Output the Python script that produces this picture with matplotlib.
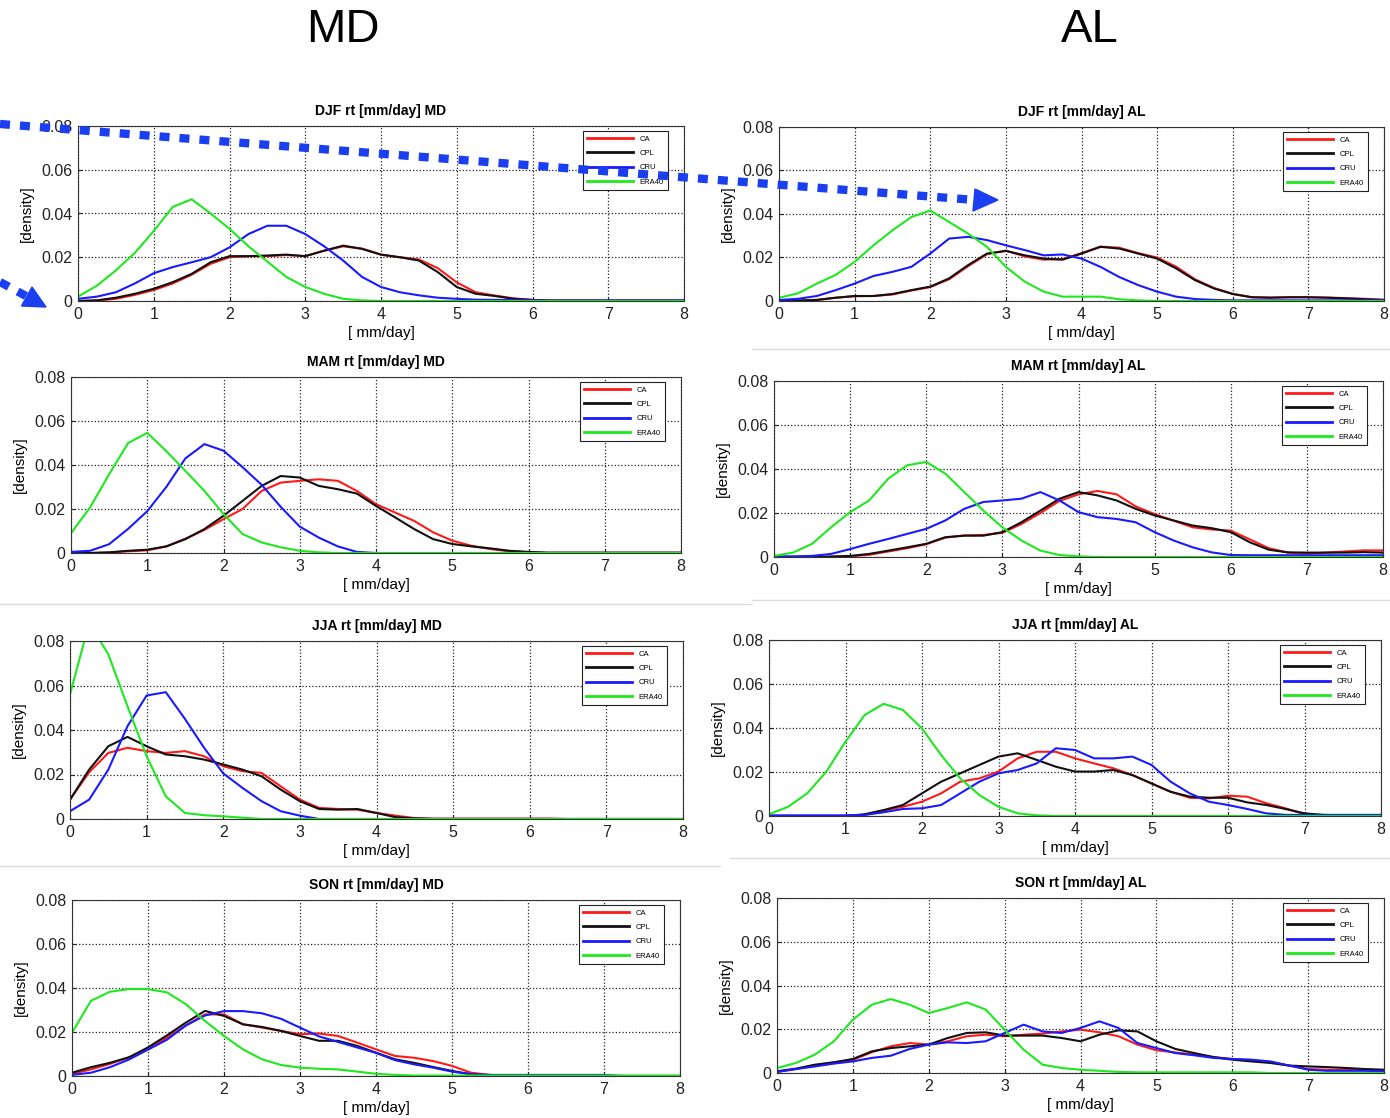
import numpy as np
import matplotlib
matplotlib.use("Agg")
import matplotlib.pyplot as plt

plt.rcParams['font.family'] = ['Liberation Sans Narrow', 'Liberation Sans', 'DejaVu Sans']

# sample grid of the density curves [mm/day]
x_mm = np.linspace(0, 8, 33)

series_names = ["CA", "CPL", "CRU", "ERA40"]
series_colors = ["#ff1a1a", "#111111", "#1a1aff", "#1ee81e"]
yticks = [0, 0.02, 0.04, 0.06, 0.08]
ytick_labels = ["0", "0.02", "0.04", "0.06", "0.08"]

# density values, x 1e-3
djf_md_ca = [0, 0.2, 1, 2.8, 5, 8, 12, 17, 20, 20.5, 20.5, 21, 20.5, 23, 25, 24, 21.2, 20, 19, 15, 8.5, 4, 2.5, 1.2, 0.5, 0, 0, 0, 0, 0, 0, 0, 0]
djf_md_cpl = [0, 0.3, 1.5, 3.3, 5.6, 8.6, 12.4, 17.7, 20.5, 20.5, 20.8, 21.2, 20.5, 23, 25.3, 23.8, 21.2, 20, 18.5, 13.2, 6.4, 3.3, 2.3, 1, 0.5, 0.2, 0.2, 0.2, 0.2, 0.2, 0.2, 0.2, 0.2]
djf_md_cru = [1, 2, 4, 8, 12.7, 15.5, 17.7, 20, 24.5, 30.6, 34.4, 34.4, 30.6, 25, 18.5, 11, 6.4, 4, 2.6, 1.5, 1, 0.6, 0.5, 0.4, 0.3, 0.3, 0.3, 0.3, 0.3, 0.3, 0.3, 0.3, 0.3]
djf_md_era40 = [2, 7, 14, 22, 32, 43, 46.5, 40, 33, 25, 18, 11, 6.4, 3.3, 1, 0.3, 0, 0, 0, 0, 0, 0, 0, 0, 0, 0, 0, 0, 0, 0, 0, 0, 0]

djf_al_ca = [0, 0.2, 0.5, 1.5, 2.2, 2.3, 3, 4.8, 6.4, 10, 16, 21.5, 23.2, 20.5, 19, 19.3, 22, 25, 24.5, 22, 20, 15.8, 10, 6, 3.3, 1.8, 1.6, 1.8, 1.8, 1.6, 1.3, 1, 0.5]
djf_al_cpl = [0, 0.2, 0.5, 1.5, 2.3, 2.3, 3.2, 5, 6.6, 10.4, 16.5, 21.8, 23, 21, 19.5, 19, 21.8, 24.9, 24.1, 21.8, 19.5, 15, 9.6, 5.8, 3.2, 1.7, 1.5, 1.7, 1.7, 1.5, 1.2, 0.8, 0.5]
djf_al_cru = [0.5, 1, 2.3, 5, 8, 11.5, 13.4, 15.7, 21.8, 28.7, 29.5, 28, 25.6, 23.4, 21, 21.4, 19.5, 15.7, 11, 7.3, 4.3, 2, 0.9, 0.5, 0.3, 0.3, 0.3, 0.3, 0.3, 0.3, 0.3, 0.3, 0.3]
djf_al_era40 = [1.5, 3.5, 8, 12, 18, 25.6, 32.5, 38.6, 41.6, 36.3, 31, 24.9, 15.7, 8.9, 4.3, 2, 2, 2, 0.8, 0.3, 0, 0, 0, 0, 0, 0, 0, 0, 0, 0, 0, 0, 0]

mam_md_ca = [0, 0, 0.2, 0.8, 1.2, 3, 6.5, 10.5, 15.4, 20, 28.2, 32, 32.8, 33.5, 32.8, 28.2, 22.2, 18.4, 14.6, 9.4, 5.6, 3.3, 1.8, 0.8, 0.3, 0, 0, 0, 0, 0, 0, 0, 0]
mam_md_cpl = [0, 0, 0.3, 1, 1.5, 3, 6.3, 10.9, 16.9, 23.7, 30.5, 35, 34.3, 30.5, 29, 27, 21.4, 16.2, 10.9, 6.3, 4.1, 3, 2.1, 1, 0.5, 0.2, 0.2, 0.2, 0.2, 0.2, 0.2, 0.2, 0.2]
mam_md_cru = [0.5, 1, 4, 11, 19, 30, 43, 49.5, 46.5, 39, 31, 21, 12, 7, 3, 0.5, 0, 0, 0, 0, 0, 0, 0, 0, 0, 0, 0, 0, 0, 0, 0, 0, 0]
mam_md_era40 = [9, 20.7, 35.8, 50, 54.6, 46.3, 37.3, 28.2, 17.7, 8.6, 4.8, 2.6, 1, 0.3, 0, 0, 0, 0, 0, 0, 0, 0, 0, 0, 0, 0, 0, 0, 0, 0, 0, 0, 0]

mam_al_ca = [0, 0, 0, 0.1, 0.3, 1, 2.5, 4, 5.8, 8.8, 9.8, 10, 11, 15, 20, 25.5, 28.5, 30, 28.5, 23, 19.5, 16.5, 13.5, 12.5, 12, 8, 4, 2, 1.5, 2, 2.5, 3, 3]
mam_al_cpl = [0, 0, 0, 0.2, 0.5, 1.4, 2.9, 4.4, 6, 9, 9.7, 9.7, 11.3, 15.8, 21.1, 26.5, 29.5, 28, 25.7, 21.9, 18.9, 16.6, 14.3, 13.1, 11.3, 6.7, 3.3, 2.1, 2, 2, 2, 2.2, 2]
mam_al_cru = [0.3, 0.3, 0.5, 1.4, 3.6, 6, 8.2, 10.5, 12.8, 16.6, 21.9, 25, 25.7, 26.5, 29.5, 25.7, 20.4, 18.1, 17.3, 15.8, 11.3, 7.5, 4.4, 2.1, 0.9, 0.8, 0.8, 0.8, 0.8, 0.8, 0.8, 0.8, 0.8]
mam_al_era40 = [0.5, 2, 6, 13.5, 20.4, 25.7, 35.6, 41.7, 43.2, 37.9, 29.5, 21.1, 13.5, 7.5, 2.9, 0.9, 0.3, 0, 0, 0, 0, 0, 0, 0, 0, 0, 0, 0, 0, 0, 0, 0, 0]

jja_md_ca = [8.7, 21, 29.7, 32, 30.5, 29.7, 30.5, 28.2, 23.7, 21.5, 20.7, 14.7, 8.7, 5, 4.5, 4.2, 2.7, 1.5, 0.4, 0.2, 0.2, 0.2, 0.2, 0.2, 0.2, 0.2, 0, 0, 0, 0, 0, 0, 0]
jja_md_cpl = [8.7, 22.2, 32.7, 36.9, 32.7, 29, 28.2, 26.7, 24.5, 22.2, 19.2, 13.2, 8, 4.5, 4.2, 4.5, 2.7, 0.8, 0.3, 0, 0, 0, 0, 0, 0, 0, 0, 0, 0, 0, 0, 0, 0]
jja_md_cru = [3.5, 8.7, 22.2, 41.7, 55.5, 57, 45, 32, 20.5, 14, 8, 3.5, 1.5, 0, 0, 0, 0, 0, 0, 0, 0, 0, 0, 0, 0, 0, 0, 0, 0, 0, 0, 0, 0]
jja_md_era40 = [56, 88, 74, 50.7, 28.2, 10.2, 2.7, 1.7, 1.2, 0.6, 0, 0, 0, 0, 0, 0, 0, 0, 0, 0, 0, 0, 0, 0, 0, 0, 0, 0, 0, 0, 0, 0, 0]

jja_al_ca = [0, 0, 0, 0, 0, 0.5, 2.5, 4.2, 6.5, 10.3, 15.6, 17.1, 20.2, 26.2, 29.2, 29.2, 26.2, 23.9, 21.7, 18.6, 14.8, 11, 8.3, 8, 9.2, 8.8, 5.8, 3.5, 0.8, 0.3, 0.3, 0.3, 0.3]
jja_al_cpl = [0, 0, 0, 0, 0, 0.8, 2.7, 5, 10.3, 15.6, 19.4, 23.2, 27, 28.5, 25.5, 22.4, 20.2, 20.2, 20.9, 18.6, 14.8, 11, 8.8, 8.3, 8.3, 6.2, 5, 3.2, 1.2, 0.5, 0.3, 0.3, 0.3]
jja_al_cru = [0.3, 0.3, 0.3, 0.3, 0.3, 0.5, 1.7, 3.2, 3.5, 5, 10.3, 15.6, 19.4, 20.9, 23.9, 30.8, 30, 26.2, 26.2, 27, 23.2, 15.6, 10.3, 6.5, 5, 3.2, 1.2, 0.5, 0.5, 0.5, 0.5, 0.5, 0.5]
jja_al_era40 = [0.8, 4.2, 10.3, 20.2, 33.8, 45.9, 51, 48.2, 39.8, 27.7, 17.1, 9.5, 4.2, 1.2, 0.3, 0, 0, 0, 0, 0, 0, 0, 0, 0, 0, 0, 0, 0, 0, 0, 0, 0, 0]

son_md_ca = [1, 3, 5.5, 8.5, 12, 17.5, 23, 28, 28, 23.5, 22, 20.5, 19, 19.3, 18.2, 15.2, 12.1, 9.1, 8.3, 6.8, 4.6, 1.5, 0.5, 0, 0, 0, 0, 0, 0, 0, 0, 0, 0]
son_md_cpl = [1.5, 4, 6, 8.5, 13, 18.5, 24.3, 29.6, 27.3, 23.5, 22.3, 20.5, 18.2, 16, 16, 13.7, 10.6, 7.6, 6, 4.1, 2.3, 0.8, 0.3, 0.3, 0, 0, 0, 0, 0, 0, 0, 0, 0]
son_md_cru = [0.5, 1.5, 4, 7.5, 12, 16.5, 23, 27.5, 29.5, 29.5, 28.5, 26, 22, 18, 15.5, 13, 10.5, 7.2, 5.3, 3.8, 2, 0.8, 0.5, 0.5, 0.5, 0.5, 0.5, 0.5, 0.5, 0, 0, 0, 0]
son_md_era40 = [19.7, 34.2, 38.3, 39.5, 39.5, 38, 32.6, 25, 18.2, 12.1, 7.6, 5, 3.8, 3.3, 3, 2, 1, 0.5, 0.2, 0.2, 0.2, 0.2, 0.2, 0.2, 0.2, 0.2, 0.2, 0.2, 0.2, 0.2, 0.2, 0.2, 0.2]

son_al_ca = [0.5, 1.8, 3.5, 4.8, 6, 9.5, 12.2, 13.7, 13, 14.5, 16.8, 17.5, 16.8, 17.5, 18, 19, 19.8, 18.6, 16.8, 13, 10.4, 9.4, 8.4, 7.3, 6.4, 5.8, 4.9, 3.4, 1.8, 1.5, 1.5, 1.5, 1.2]
son_al_cpl = [0.8, 2, 3.8, 4.9, 6.4, 9.9, 11.4, 12.2, 13, 16, 18.3, 18.6, 17.1, 17.1, 17.1, 16, 14.5, 17.5, 19.5, 19, 14.5, 11, 9.1, 7.3, 6.1, 5.3, 4.6, 3.4, 3, 2.7, 2.3, 1.8, 1.5]
son_al_cru = [0.5, 1.8, 3, 4.3, 5.3, 6.9, 7.9, 11, 13, 14, 13.7, 14.5, 18.3, 22.1, 19, 18.3, 20.6, 23.6, 20.6, 13.7, 11.4, 9.1, 8.1, 6.9, 6.4, 6.1, 5.3, 3.4, 1.5, 1, 1, 1, 0.8]
son_al_era40 = [2.3, 4.6, 8.4, 14.5, 24.4, 31.2, 33.8, 31.2, 27.4, 29.7, 32.3, 29, 19.8, 10.7, 3.8, 2.3, 1.5, 1, 0.5, 0.3, 0.3, 0.3, 0.3, 0.3, 0.3, 0.3, 0, 0, 0, 0, 0, 0, 0]

panels = [
    ("DJF", "MD", [djf_md_ca, djf_md_cpl, djf_md_cru, djf_md_era40], (78, 126, 684, 301)),
    ("DJF", "AL", [djf_al_ca, djf_al_cpl, djf_al_cru, djf_al_era40], (779, 127, 1384, 301)),
    ("MAM", "MD", [mam_md_ca, mam_md_cpl, mam_md_cru, mam_md_era40], (71, 377, 681, 553)),
    ("MAM", "AL", [mam_al_ca, mam_al_cpl, mam_al_cru, mam_al_era40], (774, 381, 1383, 557)),
    ("JJA", "MD", [jja_md_ca, jja_md_cpl, jja_md_cru, jja_md_era40], (70, 641, 683, 819)),
    ("JJA", "AL", [jja_al_ca, jja_al_cpl, jja_al_cru, jja_al_era40], (769, 640, 1381, 816)),
    ("SON", "MD", [son_md_ca, son_md_cpl, son_md_cru, son_md_era40], (72, 900, 680, 1076)),
    ("SON", "AL", [son_al_ca, son_al_cpl, son_al_cru, son_al_era40], (777, 898, 1384, 1073)),
]

W, H = 1390, 1118
fig = plt.figure(figsize=(W / 100, H / 100), dpi=100)

for season, region, curves, (l, t, r, b) in panels:
    ax = fig.add_axes([l / W, 1 - b / H, (r - l) / W, (b - t) / H])
    for vals, name, col in zip(curves, series_names, series_colors):
        ax.plot(x_mm, np.array(vals) / 1000.0, color=col, lw=1.5, label=name)
    ax.set_xlim(0, 8)
    ax.set_ylim(0, 0.08)
    ax.set_xticks(range(9))
    ax.set_yticks(yticks)
    ax.set_yticklabels(ytick_labels)
    ax.grid(True, ls=":", color="#222222", lw=0.9)
    ax.tick_params(direction="in", length=3, labelsize=11.5, pad=4, colors="#222222")
    for sp in ax.spines.values():
        sp.set_linewidth(0.8)
        sp.set_color("#333333")
    ax.set_title(f"{season} rt [mm/day] {region}", fontsize=10, fontweight="bold", pad=8)
    ax.set_xlabel("[ mm/day]", fontsize=11, labelpad=3)
    ax.set_ylabel("[density]", fontsize=11, labelpad=5)
    leg = ax.legend(loc="upper right", bbox_to_anchor=(1 - 16 / (r - l), 1 - 5 / (b - t)),
                    borderaxespad=0, fontsize=5.5, handlelength=6, handletextpad=0.8,
                    labelspacing=0.9, borderpad=0.6, fancybox=False, framealpha=1)
    leg.get_frame().set_edgecolor("#222222")
    leg.get_frame().set_linewidth(0.8)
    for ln in leg.get_lines():
        ln.set_linewidth(2)

# column headers
fig.text(343 / W, 1 - 30 / H, "MD", fontsize=34, ha="center", va="center",
         family=["Liberation Sans", "DejaVu Sans"])
fig.text(1090 / W, 1 - 30 / H, "AL", fontsize=34, ha="center", va="center",
         family=["Liberation Sans", "DejaVu Sans"])

# overlay in pixel coordinates for the arrows and panel separators
ov = fig.add_axes([0, 0, 1, 1], zorder=10)
ov.set_xlim(0, W)
ov.set_ylim(H, 0)
ov.axis("off")
ov.patch.set_alpha(0)

sep = "#dcdcdc"
ov.plot([752, W], [349, 349], color=sep, lw=1)
ov.plot([0, 752], [604, 604], color=sep, lw=1)
ov.plot([752, W], [600, 600], color=sep, lw=1)
ov.plot([0, 720], [866, 866], color=sep, lw=1)
ov.plot([730, W], [858, 858], color=sep, lw=1)

arrow_col = "#1a3ff0"
ov.plot([0, 975], [124, 200], color=arrow_col, lw=6, ls=(0, (1.2, 1.2)), dash_capstyle="butt")
ov.fill([998, 975, 973], [200, 189, 211], color=arrow_col)
ov.plot([0, 26], [282, 296], color=arrow_col, lw=6, ls=(0, (1.2, 1.2)), dash_capstyle="butt")
ov.fill([46, 21.5, 32], [307, 306, 287], color=arrow_col)

fig.savefig("out.png", dpi=100)
